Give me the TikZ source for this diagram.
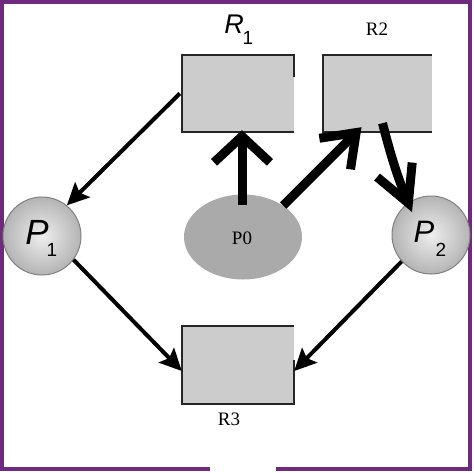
\documentclass[tikz,border=0pt]{standalone}
\usepackage{fontspec}
\setmainfont{Liberation Serif}
\setsansfont{Liberation Sans}
\usetikzlibrary{arrows.meta,shapes.geometric,calc}
\definecolor{framepurple}{HTML}{6E2A7E}
\definecolor{boxgray}{HTML}{CCCCCC}
\definecolor{procgray}{HTML}{AAAAAA}
\definecolor{edgegray}{HTML}{808080}
\definecolor{ballin}{HTML}{EEEEEE}
\definecolor{ballout}{HTML}{B4B4B4}
\tikzset{
  resbox/.style={rectangle, fill=boxgray, draw=none, inner sep=0pt},
  ballnode/.style={circle, minimum size=78pt, inner sep=0pt, draw=edgegray, line width=1pt, inner color=ballin, outer color=ballout},
  thinarrow/.style={line width=4pt, -{Stealth[length=22pt,width=21pt,inset=4pt]}},
  thickarrow/.style={line width=9pt, line cap=butt},
  boxedge/.style={line width=2.2pt, draw=black!85},
  serlabel/.style={font=\fontsize{19}{21}\selectfont},
}
\begin{document}
\begin{tikzpicture}[x=1pt,y=-1pt]
\useasboundingbox (0,0) rectangle (474,472);
\fill[white] (0,0) rectangle (474,472);
% frame
\draw[framepurple, line width=4.5pt] (210,469) -- (2,469) -- (2,1.5) -- (470,1.5) -- (470,469) -- (276,469);

% resource boxes
\node[resbox, minimum width=112pt, minimum height=77pt] (R1) at (238,93.5) {};
\node[resbox, minimum width=109pt, minimum height=77pt] (R2) at (377.5,93.5) {};
\node[resbox, minimum width=112pt, minimum height=77pt] (R3) at (238,365) {};
% box borders (partial, as printed)
\draw[boxedge] ([yshift=-22pt]R1.north east) -- (R1.north east) -- (R1.north west) -- (R1.south west) -- (R1.south east);
\draw[boxedge] (R2.north east) -- (R2.north west) -- (R2.south west) -- (R2.south east);
\draw[boxedge] ([yshift=5pt]R3.east) -- (R3.south east) -- (R3.south west) -- (R3.north west) -- (R3.north east);

% labels of boxes
\node[font=\sffamily\itshape\fontsize{27}{29}\selectfont, inner sep=0pt] (R1lab) at (234,24) {R};
\node[font=\sffamily\fontsize{19}{21}\selectfont, inner sep=0pt] (R1sub) at (248,38) {1};
\node[serlabel, inner sep=0pt] (R2lab) at (377,29) {R2};
\node[serlabel, inner sep=0pt] (R3lab) at (229,419) {R3};

% processes
\node[ellipse, fill=procgray, draw=none, minimum width=118pt, minimum height=85pt, inner sep=0pt] (P0) at (243,237) {};
\node[serlabel, inner sep=0pt] (P0lab) at (242,238) {P0};
\node[ballnode] (P1) at (42,236) {};
\node[ballnode] (P2) at (431,235) {};
\node[font=\sffamily\itshape\fontsize{35}{37}\selectfont, inner sep=0pt] (P1lab) at (37,232) {P};
\node[font=\sffamily\fontsize{19}{21}\selectfont, inner sep=0pt] (P1sub) at (52,250) {1};
\node[font=\sffamily\itshape\fontsize{31}{33}\selectfont, inner sep=0pt] (P2lab) at (424,232) {P};
\node[font=\sffamily\fontsize{19}{21}\selectfont, inner sep=0pt] (P2sub) at (441,250) {2};

% thin arrows
\draw[thinarrow] ([xshift=-2pt]R1.west) -- (P1.51);
\draw[thinarrow] (P1.-37) -- ([yshift=-6pt]R3.west);
\draw[thinarrow] (P2.222) -- ([yshift=-6pt]R3.east);

% thick hand-drawn arrows
\draw[thickarrow, -{Straight Barb[length=26pt,width=56pt,line width=9pt]}] ([xshift=-1pt,yshift=-11pt]P0.north) -- ([xshift=4pt,yshift=2pt]R1.south);
\draw[thickarrow, -{Straight Barb[length=30pt,width=44pt,line width=9pt]}] (P0.38) -- ([xshift=-16pt,yshift=5pt]R2.south);
\draw[thickarrow, -{Straight Barb[length=36pt,width=38pt,line width=9pt]}] ([xshift=5pt,yshift=9pt]R2.south) to[bend right=4] ([xshift=-19pt,yshift=23pt]P2.center);
\end{tikzpicture}
\end{document}
